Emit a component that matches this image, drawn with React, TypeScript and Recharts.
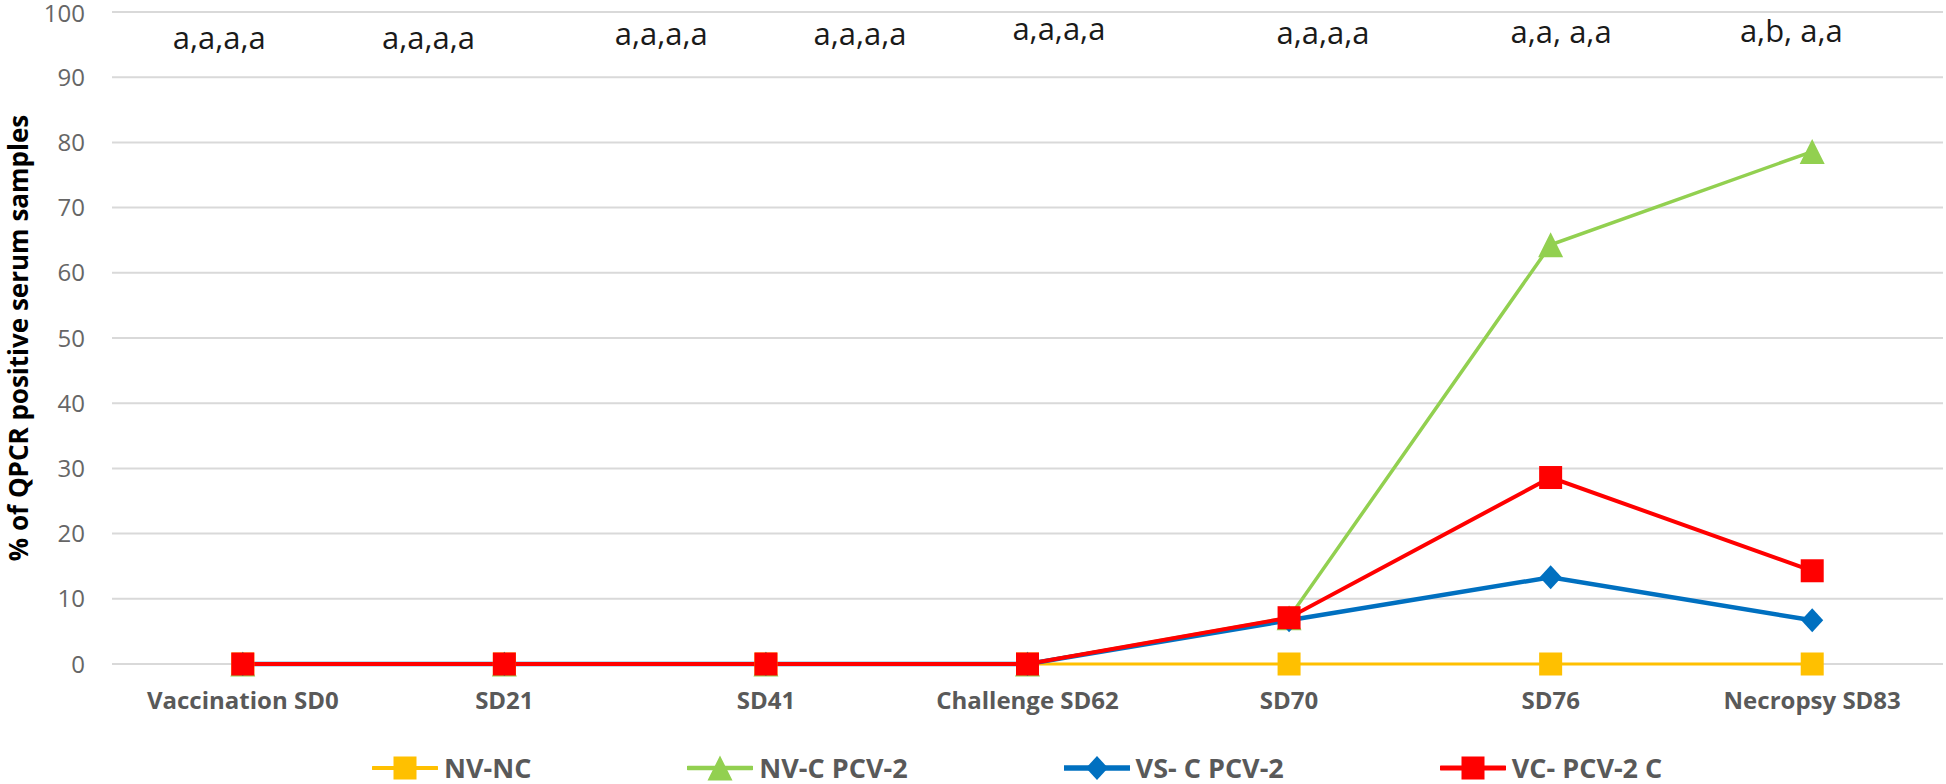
import React from "react";
import {
  LineChart,
  Line,
  XAxis,
  YAxis,
  CartesianGrid,
  Legend,
  ReferenceDot,
} from "recharts";

const categories = [
  "Vaccination SD0",
  "SD21",
  "SD41",
  "Challenge SD62",
  "SD70",
  "SD76",
  "Necropsy SD83",
];
const nvNc = [0, 0, 0, 0, 0, 0, 0];
const nvC = [0, 0, 0, 0, 7.1, 64.3, 78.6];
const vsC = [0, 0, 0, 0, 6.7, 13.3, 6.7];
const vcC = [0, 0, 0, 0, 7.1, 28.6, 14.3];
const yTicks = [0, 10, 20, 30, 40, 50, 60, 70, 80, 90, 100];

// significance letters along the top, placed in category units
const letterLabels = [
  "a,a,a,a",
  "a,a,a,a",
  "a,a,a,a",
  "a,a,a,a",
  "a,a,a,a",
  "a,a,a,a",
  "a,a, a,a",
  "a,b, a,a",
];
const letterAt = [-0.09, 0.71, 1.6, 2.36, 3.12, 4.13, 5.04, 5.92];
const letterY = [96.1, 96.1, 96.8, 96.8, 97.5, 96.9, 97.1, 97.2];

const data = categories.map((label, i) => ({
  idx: i,
  label,
  nvNc: nvNc[i],
  nvC: nvC[i],
  vsC: vsC[i],
  vcC: vcC[i],
}));
const xTicks = categories.map((_, i) => i);

const series = [
  { key: "nvNc", name: "NV-NC", color: "#FFC000", marker: "square", width: 3 },
  { key: "nvC", name: "NV-C PCV-2", color: "#92D050", marker: "triangle", width: 3.5 },
  { key: "vsC", name: "VS- C PCV-2", color: "#0070C0", marker: "diamond", width: 4.5 },
  { key: "vcC", name: "VC- PCV-2 C", color: "#FF0000", marker: "square", width: 4 },
];

const FONT = "'Open Sans', sans-serif";

function Marker({ cx, cy, type, color }: any) {
  if (cx == null || cy == null) return null;
  if (type === "triangle") {
    const s = 25;
    return (
      <polygon
        points={`${cx},${cy - s / 2} ${cx - s / 2},${cy + s / 2} ${cx + s / 2},${cy + s / 2}`}
        fill={color}
      />
    );
  }
  if (type === "diamond") {
    const w = 11;
    const h = 12;
    return (
      <polygon
        points={`${cx},${cy - h} ${cx + w},${cy} ${cx},${cy + h} ${cx - w},${cy}`}
        fill={color}
      />
    );
  }
  const s = 23;
  return <rect x={cx - s / 2} y={cy - s / 2} width={s} height={s} fill={color} />;
}

function renderLegend() {
  return (
    <div
      style={{
        height: 60,
        boxSizing: "border-box",
        paddingTop: 28,
        paddingLeft: 372,
        display: "flex",
        alignItems: "center",
        gap: 156,
        fontFamily: FONT,
        fontWeight: 700,
        fontSize: 27,
        color: "#595959",
      }}
    >
      {series.map((s) => (
        <div key={s.key} style={{ display: "flex", alignItems: "center", gap: 6 }}>
          <svg width={66} height={32}>
            <line x1={1} y1={16} x2={65} y2={16} stroke={s.color} strokeWidth={s.width + 1} strokeLinecap="round" />
            <Marker cx={33} cy={16} type={s.marker} color={s.color} />
          </svg>
          <span style={{ lineHeight: "32px", whiteSpace: "nowrap" }}>{s.name}</span>
        </div>
      ))}
    </div>
  );
}

function YTitle({ viewBox }: any) {
  const cy = viewBox.y + viewBox.height / 2;
  return (
    <text
      x={18}
      y={cy}
      transform={`rotate(-90, 18, ${cy})`}
      textAnchor="middle"
      dominantBaseline="central"
      fontFamily={FONT}
      fontWeight={700}
      fontSize={26}
      fill="#000"
    >
      % of QPCR positive serum samples
    </text>
  );
}

export default function App() {
  return (
    <div style={{ position: "absolute", left: 0, top: 0, width: 1946, height: 784, background: "#fff" }}>
      <LineChart
        width={1946}
        height={784}
        data={data}
        margin={{ top: 12, right: 3, bottom: 0, left: 0 }}
      >
        <CartesianGrid vertical={false} stroke="#D9D9D9" strokeWidth={2} />
        <XAxis
          dataKey="idx"
          type="number"
          domain={[-0.5, 6.5]}
          ticks={xTicks}
          tickFormatter={(i: number) => categories[i]}
          allowDataOverflow
          height={60}
          axisLine={false}
          tickLine={false}
          tickSize={0}
          tickMargin={28}
          interval={0}
          tick={{ fontSize: 24, fontWeight: 700, fill: "#595959", fontFamily: FONT }}
        />
        <YAxis
          width={112}
          domain={[0, 100]}
          ticks={yTicks}
          axisLine={false}
          tickLine={false}
          tickSize={0}
          tickMargin={27}
          tick={{ fontSize: 24, fill: "#666", fontFamily: FONT }}
          label={<YTitle />}
        />
        <Legend verticalAlign="bottom" content={renderLegend} wrapperStyle={{ left: 0, width: 1946 }} />
        {series.map((s) => (
          <Line
            key={s.key}
            type="linear"
            dataKey={s.key}
            name={s.name}
            stroke={s.color}
            strokeWidth={s.width}
            isAnimationActive={false}
            dot={(p: any) => (
              <Marker key={`${s.key}-${p.index}`} cx={p.cx} cy={p.cy} type={s.marker} color={s.color} />
            )}
            activeDot={false}
          />
        ))}
        {letterLabels.map((t, i) => (
          <ReferenceDot
            key={`letters-${i}`}
            x={letterAt[i]}
            y={letterY[i]}
            r={0}
            shape={(p: any) => (
              <text
                x={p.cx}
                y={p.cy}
                textAnchor="middle"
                dominantBaseline="central"
                fontFamily={FONT}
                fontSize={31}
                fill="#1a1a1a"
              >
                {t}
              </text>
            )}
          />
        ))}
      </LineChart>
    </div>
  );
}
